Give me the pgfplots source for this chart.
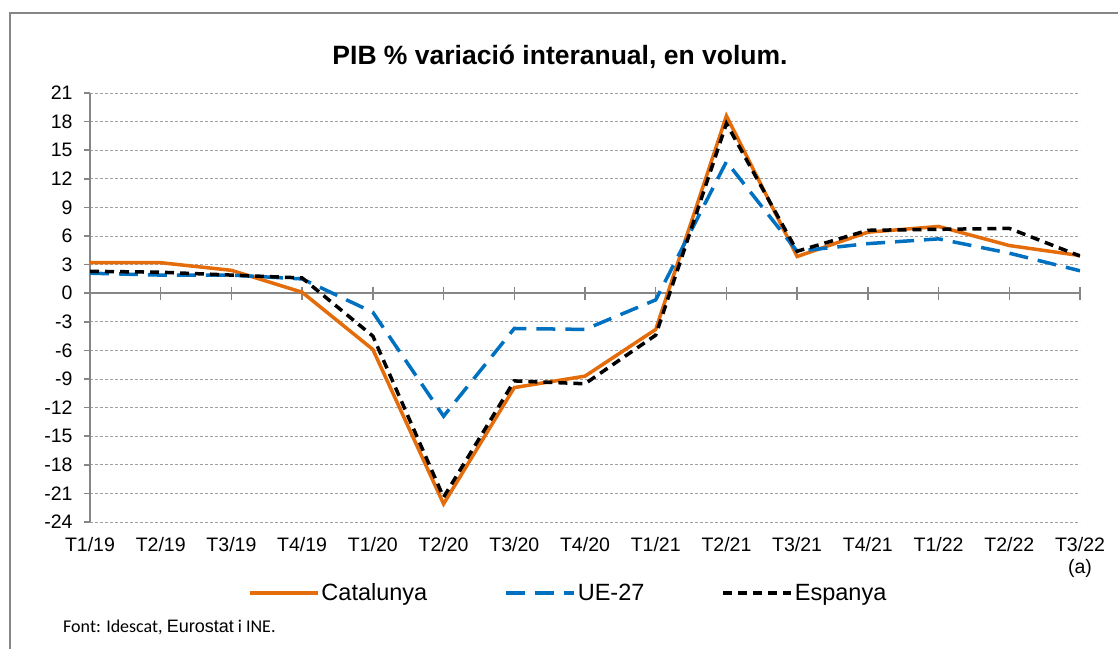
\documentclass[border=0pt]{standalone}
\usepackage{pgfplots}
\pgfplotsset{compat=1.18}
\usepackage{fontspec}
\setmainfont{Liberation Sans}
\newfontfamily\carlito{Carlito}
\definecolor{cat}{RGB}{228,108,10}
\definecolor{ue}{RGB}{0,112,192}
\definecolor{axgray}{RGB}{134,134,134}
\definecolor{gridgray}{RGB}{160,160,160}
\begin{document}
\begin{tikzpicture}[x=1pt,y=1pt]
\useasboundingbox (0,0) rectangle (1118,649);
\fill[white] (0,0) rectangle (1118,649);
\draw[axgray, line width=2pt] (10,0) -- (10,636) -- (1118,636);
\node[font=\bfseries\fontsize{26.5}{30}\selectfont] at (560,592) {PIB \% variació interanual, en volum.};
\node[anchor=base west, inner sep=0pt] at (63,17) {\carlito\fontsize{18}{21}\selectfont Font: Idescat, {\fontsize{18}{21}\selectfont\rmfamily Eurostat} i INE.};
\begin{axis}[at={(90pt,127pt)}, anchor=south west, scale only axis, width=990pt, height=429pt,
  xmin=0, xmax=14, ymin=-24, ymax=21,
  axis x line=middle, axis y line=left,
  axis line style={-, axgray, line width=1.5pt},
  hide obscured x ticks=false, hide obscured y ticks=false,
  xtick={0,...,14},
  minor xtick={0,...,14},
  xticklabels={T1/19,T2/19,T3/19,T4/19,T1/20,T2/20,T3/20,T4/20,T1/21,T2/21,T3/21,T4/21,T1/22,T2/22,{T3/22\\(a)}},
  xticklabel style={align=center, anchor=north, yshift=-238pt, font=\fontsize{19.5}{22}\selectfont},
  ytick={-24,-21,...,21},
  yticklabel style={font=\fontsize{19.5}{22}\selectfont, xshift=-8pt},
  /pgf/number format/assume math mode=true,
  xtick align=center, ytick align=outside, major tick length=6pt, minor tick length=13pt,
  tick style={axgray, line width=1.5pt},
  major x tick style={draw=none},
  minor x tick style={axgray, line width=1.5pt},
  ymajorgrids, grid style={gridgray, dash pattern=on 3pt off 2pt, line width=0.9pt},
  legend style={at={(0.483,-0.1655)}, anchor=center, draw=none, fill=none,
    legend columns=3, font=\fontsize{23.5}{28}\selectfont,
    /tikz/every even column/.append style={column sep=75pt}},
  legend cell align=left,
  legend image code/.code={\draw[#1] (0pt,0pt) -- (68pt,0pt);},
]
\addplot[cat, line width=3.5pt] coordinates {
(0,3.2) (1,3.2) (2,2.4) (3,0.1) (4,-5.9) (5,-22.1) (6,-9.9) (7,-8.7) (8,-3.8) (9,18.6) (10,3.85) (11,6.4) (12,7.0) (13,5.0) (14,3.95)};
\addlegendentry{Catalunya}
\addplot[ue, line width=3.5pt, dash pattern=on 19pt off 10pt] coordinates {
(0,2.1) (1,1.9) (2,1.9) (3,1.5) (4,-2.0) (5,-12.9) (6,-3.7) (7,-3.8) (8,-0.7) (9,13.8) (10,4.4) (11,5.2) (12,5.7) (13,4.2) (14,2.35)};
\addlegendentry{UE-27}
\addplot[black, line width=3.5pt, dash pattern=on 9pt off 6pt] coordinates {
(0,2.3) (1,2.2) (2,1.9) (3,1.6) (4,-4.5) (5,-21.4) (6,-9.2) (7,-9.5) (8,-4.4) (9,17.8) (10,4.4) (11,6.6) (12,6.7) (13,6.8) (14,3.9)};
\addlegendentry{Espanya}
\end{axis}
\end{tikzpicture}
\end{document}
